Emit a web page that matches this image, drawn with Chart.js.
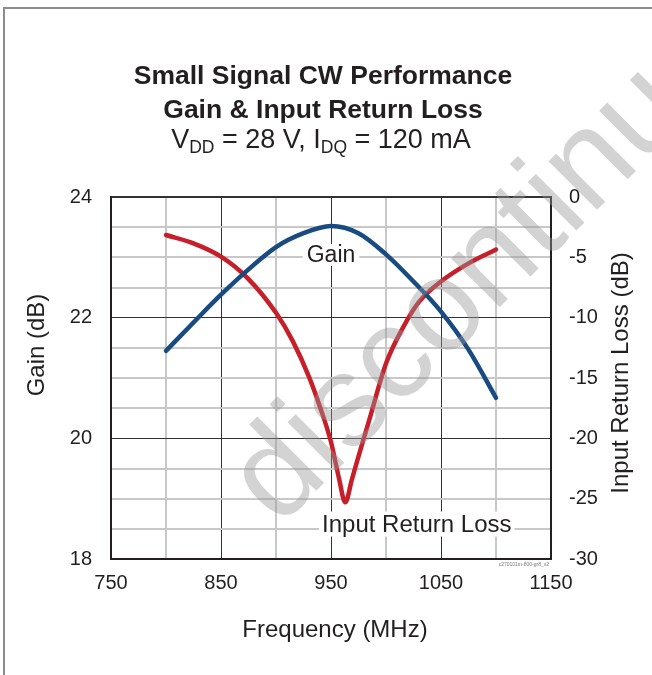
<!DOCTYPE html>
<html><head><meta charset="utf-8">
<script src="https://cdn.jsdelivr.net/npm/chart.js@4.4.1/dist/chart.umd.min.js"></script>
<style>
html,body{margin:0;padding:0;background:#fff;}
#wrap{position:relative;width:652px;height:675px;overflow:hidden;background:#fff;}
#frame{position:absolute;left:3px;top:7px;width:700px;height:700px;border-top:2px solid #8c8c8c;border-left:2px solid #8c8c8c;}
canvas{position:absolute;left:0;top:0;}
</style></head><body>
<div id="wrap"><div id="frame"></div><canvas id="c" width="652" height="675"></canvas></div>
<script>
// ---- data ----
const gainFreq = [800, 825, 850, 875, 900, 925, 950, 975, 1000, 1025, 1050, 1075, 1100];
const gainDb   = [21.45, 21.92, 22.38, 22.8, 23.17, 23.4, 23.52, 23.4, 23.05, 22.6, 22.1, 21.47, 20.67];
const irlFreq  = [800, 825, 850, 875, 900, 915, 930, 940, 950, 957, 963, 969, 975, 985, 1000, 1015, 1030, 1050, 1075, 1100];
const irlDb    = [-3.15, -3.85, -4.95, -6.8, -9.6, -11.9, -14.9, -17.4, -20.3, -23.2, -25.3, -23.4, -21.5, -18.4, -13.8, -10.9, -8.7, -7.0, -5.5, -4.35];
const xTickLabels  = [750, 850, 950, 1050, 1150];
const yTickLabels  = [18, 20, 22, 24];
const y2TickLabels = [0, -5, -10, -15, -20, -25, -30];
const titleLines = ['Small Signal CW Performance', 'Gain & Input Return Loss'];
const seriesNames = ['Gain', 'Input Return Loss'];

const FONT = '"Liberation Sans", Arial, Helvetica, sans-serif';
const INK = '#231f20';
const GRID_LIGHT = '#c8c8c8';
const GRID_DARK = '#333333';
const majorX = [850, 950, 1050];
const majorY = [20, 22];

function pts(xs, ys){ return xs.map((v,i)=>({x:v, y:ys[i]})); }

function labelBox(ctx, text, cx, cy, padX, h, size){
  ctx.font = size + 'px ' + FONT;
  const w = ctx.measureText(text).width;
  ctx.fillStyle = '#fff';
  ctx.fillRect(cx - w/2 - padX, cy - h/2, w + 2*padX, h);
  ctx.fillStyle = INK;
  ctx.textAlign = 'center';
  ctx.textBaseline = 'middle';
  ctx.fillText(text, cx, cy + 1);
}

const overlay = {
  id: 'overlay',
  beforeDatasetsDraw(chart){
    const {ctx, scales} = chart;
    ctx.save();
    labelBox(ctx, seriesNames[0], scales.x.getPixelForValue(950), scales.y.getPixelForValue(23.04), 4, 22, 23);
    labelBox(ctx, seriesNames[1], scales.x.getPixelForValue(1028), scales.y2.getPixelForValue(-27.1), 3, 25, 24);
    ctx.restore();
  },
  afterDraw(chart){
    const {ctx} = chart;
    ctx.save();
    ctx.fillStyle = INK;
    ctx.textAlign = 'center';
    ctx.textBaseline = 'alphabetic';
    ctx.font = 'bold 26.5px ' + FONT;
    ctx.fillText(titleLines[0], 323, 84);
    ctx.fillText(titleLines[1], 323, 118);
    // subtitle with subscripts
    const parts = [['V',0],['DD',1],[' = 28 V, I',0],['DQ',1],[' = 120 mA',0]];
    const mainF = '27px ' + FONT, subF = '17.5px ' + FONT;
    let total = 0;
    parts.forEach(p=>{ ctx.font = p[1]?subF:mainF; total += ctx.measureText(p[0]).width; });
    let xx = 321 - total/2;
    ctx.textAlign = 'left';
    parts.forEach(p=>{
      ctx.font = p[1]?subF:mainF;
      ctx.fillText(p[0], xx, p[1]?153:148);
      xx += ctx.measureText(p[0]).width;
    });
    // axis titles
    ctx.textAlign = 'center';
    ctx.textBaseline = 'middle';
    ctx.font = '24px ' + FONT;
    ctx.fillText('Frequency (MHz)', 335, 630);
    ctx.save(); ctx.translate(37, 345); ctx.rotate(-Math.PI/2); ctx.fillText('Gain (dB)', 0, 0); ctx.restore();
    ctx.save(); ctx.translate(621, 373); ctx.rotate(-Math.PI/2); ctx.fillText('Input Return Loss (dB)', 0, 0); ctx.restore();
    // tiny drawing code
    ctx.font = '5px ' + FONT;
    ctx.fillStyle = '#777';
    ctx.textAlign = 'right';
    ctx.textBaseline = 'alphabetic';
    ctx.fillText('c270101m-800-gr8_v2', 549, 566);
    // watermark
    ctx.save();
    ctx.translate(279, 528);
    ctx.rotate(-Math.PI/4);
    ctx.font = '130px ' + FONT;
    ctx.fillStyle = 'rgba(150,150,150,0.42)';
    ctx.textAlign = 'left';
    ctx.fillText('discontinued', 0, 0);
    ctx.restore();
    ctx.restore();
  }
};

new Chart(document.getElementById('c'), {
  type: 'line',
  data: {
    datasets: [
      { label: seriesNames[0], data: pts(gainFreq, gainDb), yAxisID: 'y', borderColor: '#174b82', borderWidth: 4.5,
        pointRadius: 0, cubicInterpolationMode: 'monotone', fill: false, borderCapStyle: 'round' },
      { label: seriesNames[1], data: pts(irlFreq, irlDb), yAxisID: 'y2', borderColor: '#c71f2a', borderWidth: 4.5,
        pointRadius: 0, cubicInterpolationMode: 'monotone', fill: false, borderCapStyle: 'round' }
    ]
  },
  options: {
    responsive: false,
    devicePixelRatio: 1,
    animation: false,
    layout: { padding: { top: 197, left: 0, right: 0, bottom: 0 } },
    plugins: { legend: { display: false }, tooltip: { enabled: false }, title: { display: false } },
    scales: {
      x: {
        type: 'linear', min: 750, max: 1150,
        afterFit: s => { s.height = 116; },
        ticks: { stepSize: 50, padding: 12, color: INK, font: { family: FONT, size: 20 },
          callback: v => xTickLabels.includes(v) ? String(v) : '' , maxRotation: 0, autoSkip: false },
        grid: { drawTicks: false,
          color: c => (c.tick && majorX.includes(c.tick.value)) ? GRID_DARK : GRID_LIGHT,
          lineWidth: c => (c.tick && majorX.includes(c.tick.value)) ? 1 : 2 },
        border: { color: INK, width: 2 }
      },
      y: {
        position: 'left', min: 18, max: 24,
        afterFit: s => { s.width = 111; },
        ticks: { stepSize: 0.5, padding: 19, color: INK, font: { family: FONT, size: 20 },
          callback: v => yTickLabels.includes(v) ? String(v) : '', autoSkip: false },
        grid: { drawTicks: false,
          color: c => (c.tick && (majorY.includes(c.tick.value) || c.tick.value === 24)) ? GRID_DARK : GRID_LIGHT,
          lineWidth: c => (c.tick && c.tick.value === 24) ? 2 : ((c.tick && majorY.includes(c.tick.value)) ? 1 : 2) },
        border: { color: INK, width: 2 }
      },
      y2: {
        position: 'right', min: -30, max: 0,
        afterFit: s => { s.width = 101; },
        ticks: { stepSize: 5, padding: 18, color: INK, font: { family: FONT, size: 20 },
          callback: v => y2TickLabels.includes(v) ? String(v) : '' },
        grid: { drawOnChartArea: false, drawTicks: false },
        border: { color: INK, width: 2 }
      }
    }
  },
  plugins: [overlay]
});
</script>
</body></html>
